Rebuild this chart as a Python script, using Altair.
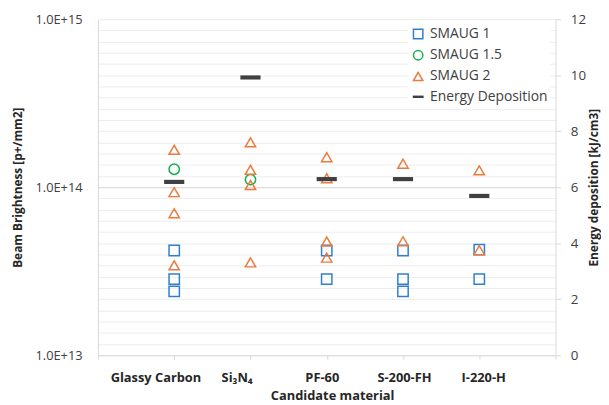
import altair as alt
import pandas as pd

# ---------------- data ----------------
materials = ["Glassy Carbon", "Si₃N₄", "PF-60", "S-200-FH", "I-220-H"]
material_pos = [1, 2, 3, 4, 5]

series_names = ["SMAUG 1", "SMAUG 1.5", "SMAUG 2", "Energy Deposition"]

smaug1_pos = [1, 1, 1, 3, 3, 4, 4, 4, 5, 5]
smaug1_val = [4.2e13, 2.84e13, 2.4e13, 4.2e13, 2.84e13, 4.2e13, 2.84e13, 2.4e13, 4.25e13, 2.84e13]

smaug15_pos = [1, 2]
smaug15_val = [1.28e14, 1.11e14]

smaug2_pos = [1, 1, 1, 1, 2, 2, 2, 2, 3, 3, 3, 3, 4, 4, 5, 5]
smaug2_val = [1.67e14, 9.35e13, 7.0e13, 3.43e13,
              1.85e14, 1.27e14, 1.03e14, 3.57e13,
              1.51e14, 1.13e14, 4.75e13, 3.81e13,
              1.38e14, 4.77e13,
              1.26e14, 4.22e13]

energy_deposition = [6.19, 9.92, 6.29, 6.29, 5.69]  # kJ/cm3

left_ticks = [1e13, 1e14, 1e15]
right_ticks = [0, 2, 4, 6, 8, 10, 12]
right_grid = [round(0.4 * i, 1) for i in range(31)]
x_ticks = [0, 1, 2, 3, 4, 5, 6]

# ---------------- tables ----------------
rows = []
for name, ps, vs in [("SMAUG 1", smaug1_pos, smaug1_val),
                     ("SMAUG 1.5", smaug15_pos, smaug15_val),
                     ("SMAUG 2", smaug2_pos, smaug2_val)]:
    for p, v in zip(ps, vs):
        rows.append({"pos": p, "value": v, "series": name})
df_pts = pd.DataFrame(rows)

df_en = pd.DataFrame({"pos": material_pos, "energy": energy_deposition,
                      "series": ["Energy Deposition"] * len(material_pos)})

# ---------------- styling ----------------
FONT = "Open Sans"
DARK = "#262626"
GREY = "#404040"
AXISLINE = "#D9D9D9"

colors = ["#2E7FD0", "#12B04B", "#EB7A3C", "#404040"]
shapes = ["square", "circle", "triangle-up", "M-1,-0.1H1V0.1H-1Z"]

names_js = "[" + ",".join("'" + m + "'" for m in materials) + "]"
label_shift = "datum.value == 1 ? -19 : datum.value == 2 ? -14 : datum.value == 3 ? -5 : datum.value == 4 ? 1 : datum.value == 5 ? 4 : 0"

x_enc = alt.X(
    "pos:Q",
    scale=alt.Scale(domain=[0, 6], nice=False, zero=False),
    axis=alt.Axis(
        values=x_ticks,
        labelExpr="datum.value >= 1 && datum.value <= 5 ? " + names_js + "[datum.value - 1] : ''",
        labelOffset={"expr": label_shift},
        labelFont=FONT, labelFontWeight="bold", labelFontSize=13, labelColor=DARK,
        labelPadding=13, labelOverlap=False,
        grid=False, ticks=True, tickSize=4, tickColor=AXISLINE, domainColor=AXISLINE,
        title="Candidate material", titleFont=FONT, titleFontWeight="bold",
        titleFontSize=13, titleColor=DARK, titleX=237, titleY=45,
        titleBaseline="alphabetic", titleAlign="center",
    ),
)

legend_def = alt.Legend(
    orient="none", legendX=314, legendY=5, title=None,
    fillColor="white", padding=3, rowPadding=5.5,
    symbolSize=90, symbolStrokeWidth=1.5, labelOffset=5,
    labelFont=FONT, labelFontSize=14, labelColor=GREY,
)

color_enc = alt.Color("series:N", scale=alt.Scale(domain=series_names, range=colors), legend=legend_def)
shape_enc = alt.Shape("series:N", scale=alt.Scale(domain=series_names, range=shapes), legend=legend_def)

points = alt.Chart(df_pts).mark_point(filled=False, strokeWidth=1.5, size=110, opacity=1).encode(
    x=x_enc,
    y=alt.Y(
        "value:Q",
        scale=alt.Scale(type="log", domain=[1e13, 1e15], nice=False),
        axis=alt.Axis(
            orient="left", values=left_ticks,
            labelExpr="'1.0E+' + round(log(datum.value) / LN10)",
            grid=False, ticks=False, domainColor=AXISLINE,
            labelFont=FONT, labelFontSize=13, labelColor=GREY, labelPadding=16,
            title="Beam Brightness [p+/mm2]", titleFont=FONT, titleFontWeight="bold",
            titleFontSize=12, titleColor=DARK, titleAngle=270,
            titleX=-81, titleY=170, titleAlign="center", titleBaseline="middle",
        ),
    ),
    color=color_enc,
    shape=shape_enc,
)

is_major = "abs(datum.value - 2 * round(datum.value / 2)) < 0.01"

energy = alt.Chart(df_en).mark_point(filled=False, strokeWidth=2.4, size=324, opacity=1).encode(
    x=x_enc,
    y=alt.Y(
        "energy:Q",
        scale=alt.Scale(domain=[0, 12], nice=False, zero=True),
        axis=alt.Axis(
            orient="right", values=right_grid,
            labelExpr=is_major + " ? format(datum.value, '.0f') : ''",
            labelOverlap=False, labelBound=False,
            grid=True,
            gridColor={"condition": {"test": "abs(datum.value - 6) < 0.01", "value": "#D2D2D2"},
                       "value": "#EDEDED"},
            ticks=True, tickSize=5, tickColor=AXISLINE,
            tickOpacity={"condition": {"test": is_major, "value": 1}, "value": 0},
            domainColor=AXISLINE,
            labelFont=FONT, labelFontSize=13.5, labelColor=GREY, labelPadding=10,
            title="Energy deposition [kJ/cm3]", titleFont=FONT, titleFontWeight="bold",
            titleFontSize=12, titleColor=DARK, titleAngle=270,
            titleX=38, titleY=170, titleAlign="center", titleBaseline="middle",
        ),
    ),
    color=color_enc,
    shape=shape_enc,
)

chart = alt.layer(points, energy).resolve_scale(y="independent").properties(
    width=463, height=340,
    padding={"left": 91, "top": 9, "right": 46, "bottom": 48},
    autosize=alt.AutoSizeParams(type="none"),
    background="white",
).configure_view(stroke=None)

chart.save("out.html", embed_options={"renderer": "svg", "actions": False})
